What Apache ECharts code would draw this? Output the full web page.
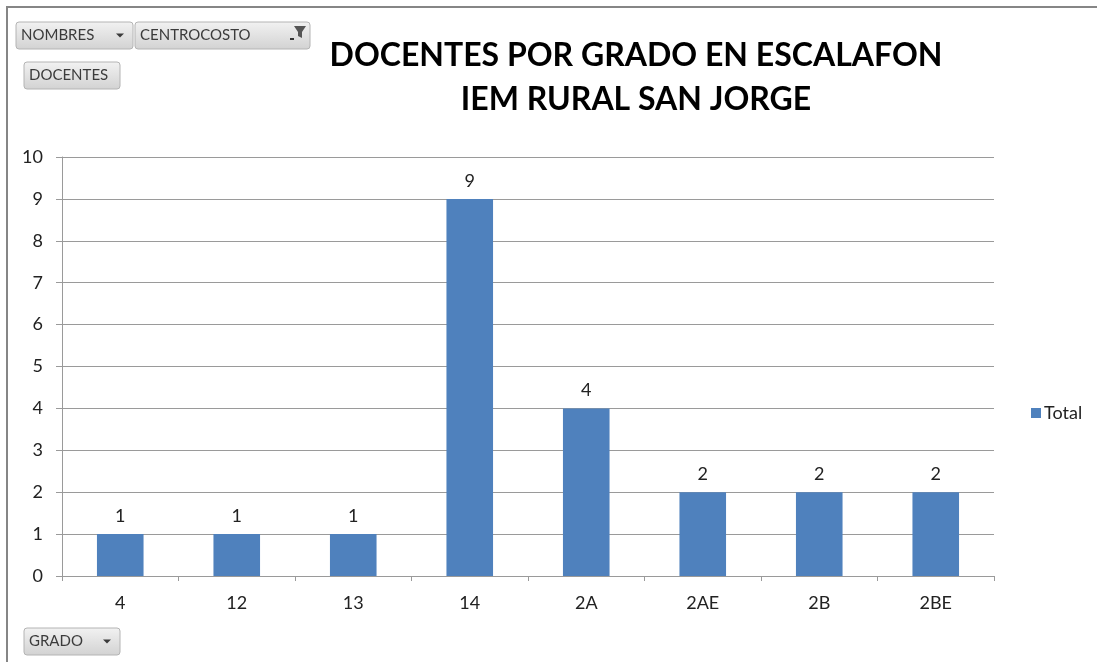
<!DOCTYPE html>
<html>
<head>
<meta charset="utf-8">
<script src="https://cdn.jsdelivr.net/npm/echarts@6/dist/echarts.min.js"></script>
<style>
html,body{margin:0;padding:0;background:#fff;}
#chart{width:1097px;height:662px;}
</style>
</head>
<body>
<div id="chart"></div>
<script>
const categories = ['4', '12', '13', '14', '2A', '2AE', '2B', '2BE'];
const totals = [1, 1, 1, 9, 4, 2, 2, 2];
const titleLines = ['DOCENTES POR GRADO EN ESCALAFON', 'IEM RURAL SAN JORGE'];
const seriesName = 'Total';
const filterButtons = ['NOMBRES', 'CENTROCOSTO', 'DOCENTES', 'GRADO'];

const chart = echarts.init(document.getElementById('chart'), null, {renderer: 'canvas'});
const FONT = 'Lato, "Open Sans", sans-serif';

function button(x, y, w, h, label, icon) {
  const children = [
    {type: 'rect', shape: {x: x, y: y, width: w, height: h, r: 3},
     style: {fill: new echarts.graphic.LinearGradient(0, 0, 0, 1, [
       {offset: 0, color: '#f2f2f2'}, {offset: 1, color: '#d2d2d2'}]),
       stroke: '#b4b4b4', lineWidth: 1}},
    {type: 'text', x: x + 5, y: y + h / 2,
     style: {text: label, font: '15px ' + FONT, fill: '#3b3b3b', verticalAlign: 'middle'}}
  ];
  if (icon === 'drop') {
    children.push({type: 'polygon', shape: {points: [[x + w - 17, y + h / 2 - 2], [x + w - 9, y + h / 2 - 2], [x + w - 13, y + h / 2 + 2]]},
      style: {fill: '#3b3b3b'}});
  } else if (icon === 'filter') {
    children.push({type: 'polygon', shape: {points: [[x + w - 16, y + 4], [x + w - 4, y + 4], [x + w - 8, y + 10], [x + w - 8, y + 16], [x + w - 12, y + 14], [x + w - 12, y + 10]]},
      style: {fill: '#555'}});
    children.push({type: 'rect', shape: {x: x + w - 20, y: y + 16, width: 4, height: 2}, style: {fill: '#333'}});
  }
  return {type: 'group', children: children};
}

chart.setOption({
  backgroundColor: '#fff',
  animation: false,
  title: {
    text: titleLines.join('\n'),
    left: 631,
    textAlign: 'center',
    top: 29,
    textStyle: {fontFamily: FONT, fontWeight: 'bold', fontSize: 32, color: '#000', lineHeight: 44}
  },
  legend: {
    data: [seriesName],
    orient: 'vertical',
    left: 1026,
    top: 399,
    itemWidth: 10,
    itemHeight: 10,
    itemGap: 4,
    icon: 'rect',
    textStyle: {fontFamily: FONT, fontSize: 18, color: '#222', padding: [0, 0, 0, -2]}
  },
  grid: {left: 62, right: 103, top: 157, bottom: 86, containLabel: false},
  xAxis: {
    type: 'category',
    data: categories,
    axisLine: {show: true, lineStyle: {color: '#9a9a9a', width: 1}},
    axisTick: {show: true, alignWithLabel: false, length: 5, lineStyle: {color: '#9a9a9a'}},
    axisLabel: {fontFamily: FONT, fontSize: 18, color: '#222', margin: 18}
  },
  yAxis: {
    type: 'value',
    min: 0, max: 10, interval: 1,
    axisLine: {show: true, lineStyle: {color: '#9a9a9a', width: 1}},
    axisTick: {show: true, length: 6, lineStyle: {color: '#9a9a9a'}},
    axisLabel: {fontFamily: FONT, fontSize: 18, color: '#222', margin: 19},
    splitLine: {show: true, lineStyle: {color: '#9a9a9a', width: 1}}
  },
  series: [{
    name: seriesName,
    type: 'bar',
    data: totals,
    barWidth: '40%',
    itemStyle: {color: '#4f81bd'},
    label: {show: true, position: 'top', distance: 9, fontFamily: FONT, fontSize: 18, color: '#222'}
  }],
  graphic: [
    {type: 'rect', shape: {x: 7, y: 7, width: 1300, height: 800}, style: {fill: 'none', stroke: '#868686', lineWidth: 2}, z: 100},
    button(16, 22, 117, 27, filterButtons[0], 'drop'),
    button(135, 22, 175, 27, filterButtons[1], 'filter'),
    button(24, 62, 96, 27, filterButtons[2], null),
    button(24, 628, 96, 27, filterButtons[3], 'drop')
  ]
});
</script>
</body>
</html>
